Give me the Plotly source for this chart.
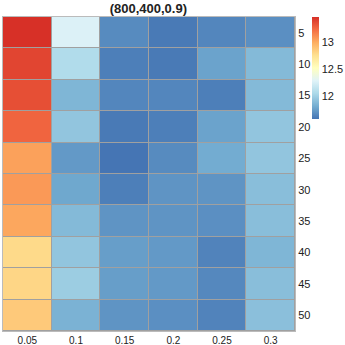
import plotly.graph_objects as go

x_labels = ["0.05", "0.1", "0.15", "0.2", "0.25", "0.3"]
y_labels = ["5", "10", "15", "20", "25", "30", "35", "40", "45", "50"]

row_5 = [13.45, 12.27, 11.68, 11.61, 11.66, 11.70]
row_10 = [13.37, 12.08, 11.63, 11.61, 11.78, 11.89]
row_15 = [13.33, 11.87, 11.66, 11.66, 11.63, 11.89]
row_20 = [13.25, 11.95, 11.61, 11.63, 11.78, 11.95]
row_25 = [13.03, 11.74, 11.59, 11.68, 11.82, 11.95]
row_30 = [13.06, 11.80, 11.63, 11.72, 11.72, 11.91]
row_35 = [13.01, 11.89, 11.72, 11.72, 11.70, 11.91]
row_40 = [12.78, 11.95, 11.76, 11.74, 11.65, 11.87]
row_45 = [12.80, 11.99, 11.76, 11.74, 11.67, 11.91]
row_50 = [12.86, 11.85, 11.72, 11.70, 11.65, 11.92]

z = [row_5, row_10, row_15, row_20, row_25, row_30, row_35, row_40, row_45, row_50]

cscale = [
    [0.0, "#4575b4"], [0.125, "#74add1"], [0.25, "#abd9e9"], [0.375, "#e0f3f8"],
    [0.5, "#ffffbf"], [0.625, "#fee090"], [0.75, "#fdae61"], [0.875, "#f46d43"],
    [1.0, "#d73027"],
]

fig = go.Figure(go.Heatmap(
    z=z, x=x_labels, y=y_labels,
    colorscale=cscale, xgap=1, ygap=1,
    colorbar=dict(
        thickness=7, lenmode="pixels", len=102,
        x=1.058, xanchor="left", xpad=0,
        y=1, yanchor="top", ypad=0,
        outlinewidth=0, tickvals=[12, 12.5, 13],
        ticks="", ticklen=0,
        tickfont=dict(size=11, color="#222"),
    ),
))

fig.update_layout(
    width=345, height=345,
    margin=dict(l=3, r=50, t=17, b=14, autoexpand=False),
    paper_bgcolor="white", plot_bgcolor="#a0a0a0",
    font=dict(family="Liberation Sans, Arial", size=11, color="#222"),
    title=dict(text="<b>(800,400,0.9)</b>", x=0.43, xanchor="center",
               y=0.975, yanchor="middle", font=dict(size=13, color="#222")),
)
fig.update_xaxes(type="category", showgrid=False, ticks="", ticklen=0,
                 showline=True, linecolor="#bbbbbb", linewidth=1, mirror=True,
                 tickfont=dict(size=10), automargin=False)
fig.update_yaxes(type="category", autorange="reversed", side="right",
                 showgrid=False, ticks="", showline=True, linecolor="#bbbbbb",
                 linewidth=1, mirror=True, tickfont=dict(size=11), automargin=False)

fig.write_html("out.html", config={"displayModeBar": False},
               post_script="document.body.style.margin='0';")
